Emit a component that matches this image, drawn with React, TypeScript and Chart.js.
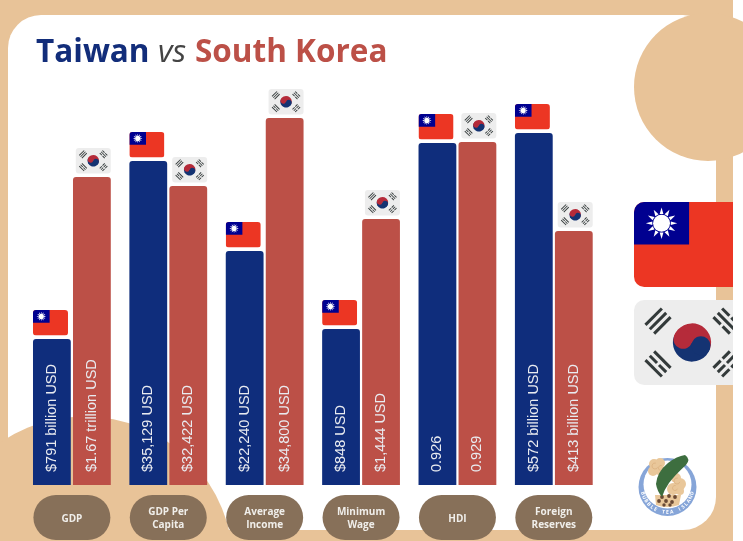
import React, { useEffect, useRef } from "react";
import { Chart, registerables } from "chart.js";

Chart.register(...registerables);

const categories: (string | string[])[] = ["GDP", ["GDP Per", "Capita"], ["Average", "Income"], ["Minimum", "Wage"], "HDI", ["Foreign", "Reserves"]];
const taiwanHeights = [146, 324, 234, 156, 342, 352];
const koreaHeights = [308, 299, 367, 266, 343, 254];
const taiwanLabels = ["$791 billion USD", "$35,129 USD", "$22,240 USD", "$848 USD", "0.926", "$572 billion USD"];
const koreaLabels = ["$1.67 trillion USD", "$32,422 USD", "$34,800 USD", "$1,444 USD", "0.929", "$413 billion USD"];

const BEIGE = "#e8c398";
const BLUE = "#0f2d7c";
const RED = "#bc5047";
const PILL = "#877059";

function rr(ctx: CanvasRenderingContext2D, x: number, y: number, w: number, h: number, r: number) {
  ctx.beginPath();
  ctx.roundRect(x, y, w, h, r);
}

function taiwanFlag(ctx: CanvasRenderingContext2D, x: number, y: number, w: number, h: number) {
  ctx.save();
  rr(ctx, x, y, w, h, h * 0.12);
  ctx.clip();
  ctx.fillStyle = "#ec3623";
  ctx.fillRect(x, y, w, h);
  const cw = w * 0.475;
  const ch = h * 0.5;
  ctx.fillStyle = "#000090";
  ctx.fillRect(x, y, cw, ch);
  const cx = x + cw / 2;
  const cy = y + ch / 2;
  const R = ch * 0.37;
  ctx.fillStyle = "#ffffff";
  for (let i = 0; i < 12; i++) {
    const a = (i * Math.PI) / 6 - Math.PI / 2;
    const b = 0.2;
    const inner = R * 0.6;
    ctx.beginPath();
    ctx.moveTo(cx + R * Math.cos(a), cy + R * Math.sin(a));
    ctx.lineTo(cx + inner * Math.cos(a - b), cy + inner * Math.sin(a - b));
    ctx.lineTo(cx + inner * Math.cos(a + b), cy + inner * Math.sin(a + b));
    ctx.closePath();
    ctx.fill();
  }
  ctx.beginPath();
  ctx.arc(cx, cy, R * 0.54, 0, Math.PI * 2);
  ctx.fill();
  ctx.restore();
}

function trigram(ctx: CanvasRenderingContext2D, cx: number, cy: number, angle: number, w: number, broken: boolean[]) {
  const len = w * 0.2;
  const t = w * 0.026;
  const gap = w * 0.053;
  ctx.save();
  ctx.translate(cx, cy);
  ctx.rotate(angle);
  ctx.fillStyle = "#333a3a";
  broken.forEach((b, i) => {
    const yy = (i - 1) * gap - t / 2;
    if (b) {
      ctx.fillRect(-len / 2, yy, len * 0.44, t);
      ctx.fillRect(len * 0.06, yy, len * 0.44, t);
    } else {
      ctx.fillRect(-len / 2, yy, len, t);
    }
  });
  ctx.restore();
}

function koreaFlag(ctx: CanvasRenderingContext2D, x: number, y: number, w: number, h: number) {
  ctx.save();
  ctx.fillStyle = "#ededed";
  rr(ctx, x, y, w, h, h * 0.12);
  ctx.fill();
  rr(ctx, x, y, w, h, h * 0.12);
  ctx.clip();
  const cx = x + w / 2;
  const cy = y + h / 2;
  const dx = w * 0.293;
  const dy = w * 0.185;
  const a = Math.PI / 4;
  trigram(ctx, cx - dx, cy - dy, -a, w, [false, false, false]);
  trigram(ctx, cx + dx, cy - dy, a, w, [true, false, true]);
  trigram(ctx, cx - dx, cy + dy, a, w, [false, true, false]);
  trigram(ctx, cx + dx, cy + dy, -a, w, [true, true, true]);
  const r = w * 0.165;
  const rot = 0.35;
  ctx.translate(cx, cy);
  ctx.rotate(rot);
  ctx.fillStyle = "#b52b3a";
  ctx.beginPath();
  ctx.arc(0, 0, r, Math.PI, 0);
  ctx.fill();
  ctx.fillStyle = "#143372";
  ctx.beginPath();
  ctx.arc(0, 0, r, 0, Math.PI);
  ctx.fill();
  ctx.fillStyle = "#b52b3a";
  ctx.beginPath();
  ctx.arc(-r / 2, 0, r / 2, 0, Math.PI * 2);
  ctx.fill();
  ctx.fillStyle = "#143372";
  ctx.beginPath();
  ctx.arc(r / 2, 0, r / 2, 0, Math.PI * 2);
  ctx.fill();
  ctx.restore();
}

function logo(ctx: CanvasRenderingContext2D) {
  const cx = 667.5;
  const cy = 487;
  ctx.save();
  ctx.fillStyle = "#86a5d8";
  ctx.beginPath();
  ctx.arc(cx, cy, 29, 0, Math.PI * 2);
  ctx.fill();
  ctx.fillStyle = "#ffffff";
  ctx.beginPath();
  ctx.arc(cx, cy - 2.5, 24, 0, Math.PI * 2);
  ctx.fill();
  ctx.fillStyle = "#e9c79a";
  ctx.beginPath();
  ctx.moveTo(655, 495);
  ctx.lineTo(681, 495);
  ctx.lineTo(679, 505);
  ctx.quadraticCurveTo(667, 509, 656, 505);
  ctx.closePath();
  ctx.fill();
  ([[654, 464, 5], [660, 463, 5], [653, 471, 5], [661, 471, 5], [676, 478, 5], [680, 484, 6], [673, 489, 6], [680, 491, 4]] as number[][]).forEach(([a, b, r]) => {
    ctx.beginPath();
    ctx.arc(a, b, r, 0, Math.PI * 2);
    ctx.fill();
  });
  ctx.strokeStyle = "#d8ad7c";
  ctx.lineWidth = 0.7;
  ([[655, 466, 3], [661, 468, 2.5], [677, 481, 3], [675, 488, 2.5]] as number[][]).forEach(([a, b, r]) => {
    ctx.beginPath();
    ctx.arc(a, b, r, 0.3, 5);
    ctx.stroke();
  });
  ctx.fillStyle = "#6a4a35";
  ([[662, 497, 1.9], [669, 496, 1.9], [675, 497, 1.9], [659, 501, 1.9], [666, 501, 1.9], [672, 502, 1.9], [664, 505, 1.7], [670, 505, 1.7]] as number[][]).forEach(([a, b, r]) => {
    ctx.beginPath();
    ctx.arc(a, b, r, 0, Math.PI * 2);
    ctx.fill();
  });
  ctx.fillStyle = "#3d6e3f";
  ctx.beginPath();
  ctx.moveTo(685, 455);
  ctx.quadraticCurveTo(691, 459, 686, 465);
  ctx.quadraticCurveTo(675, 475, 669, 483);
  ctx.quadraticCurveTo(664, 490, 662, 497);
  ctx.quadraticCurveTo(657, 491, 656, 484);
  ctx.quadraticCurveTo(657, 472, 668, 463);
  ctx.quadraticCurveTo(677, 456, 685, 455);
  ctx.fill();
  const text = "BUBBLE TEA ISLAND";
  ctx.fillStyle = "#ffffff";
  ctx.font = "bold 5px 'Open Sans'";
  ctx.textAlign = "center";
  ctx.textBaseline = "middle";
  const step = 0.165;
  [...text].forEach((ch, i) => {
    const a = Math.PI / 2 + ((text.length - 1) / 2 - i) * step;
    ctx.save();
    ctx.translate(cx + 25.5 * Math.cos(a), cy + 25.5 * Math.sin(a));
    ctx.rotate(a - Math.PI / 2);
    ctx.fillText(ch, 0, 0);
    ctx.restore();
  });
  ctx.restore();
}

const backdrop = {
  id: "backdrop",
  beforeDraw(chart: any) {
    const ctx: CanvasRenderingContext2D = chart.ctx;
    ctx.save();
    ctx.fillStyle = "#ffffff";
    ctx.fillRect(0, 0, 743, 541);
    ctx.fillStyle = BEIGE;
    ctx.fillRect(0, 0, 733, 541);
    ctx.fillStyle = "#ffffff";
    rr(ctx, 8, 15, 708, 515, 33);
    ctx.fill();
    ctx.fillStyle = BEIGE;
    ctx.beginPath();
    ctx.arc(708, 87, 74, 0, Math.PI * 2);
    ctx.fill();
    ctx.beginPath();
    ctx.rect(0, 400, 733, 141);
    ctx.clip();
    ctx.beginPath();
    ctx.arc(84.4, 565.4, 149, 0, Math.PI * 2);
    ctx.fill();
    ctx.restore();

    ctx.save();
    ctx.beginPath();
    ctx.rect(0, 0, 733, 541);
    ctx.clip();
    taiwanFlag(ctx, 634, 202, 116, 85);
    koreaFlag(ctx, 634, 300, 116, 85);
    ctx.restore();

    logo(ctx);

    // title
    ctx.save();
    ctx.textBaseline = "alphabetic";
    ctx.textAlign = "left";
    ctx.font = "bold 31.5px 'Open Sans'";
    ctx.fillStyle = "#122d7a";
    ctx.fillText("Taiwan", 36, 62);
    ctx.font = "italic 31.5px 'Open Sans'";
    ctx.fillStyle = "#444444";
    ctx.fillText("vs", 158, 62);
    ctx.font = "bold 31.5px 'Open Sans'";
    ctx.fillStyle = "#bc5047";
    ctx.fillText("South Korea", 195, 62);
    ctx.restore();

    // category pills, placed on the axis ticks
    const xs = chart.scales.x;
    ctx.save();
    ctx.fillStyle = PILL;
    categories.forEach((_, i) => {
      const px = xs.getPixelForTick(i);
      rr(ctx, px - 38.5, 495, 77, 45, 22.5);
      ctx.fill();
    });
    ctx.restore();
  },
};

const barDecor = {
  id: "barDecor",
  afterDatasetsDraw(chart: any) {
    const ctx: CanvasRenderingContext2D = chart.ctx;
    const sets = [
      { labels: taiwanLabels, meta: chart.getDatasetMeta(0), flag: taiwanFlag, left: true },
      { labels: koreaLabels, meta: chart.getDatasetMeta(1), flag: koreaFlag, left: false },
    ];
    sets.forEach(({ labels, meta, flag, left }) => {
      meta.data.forEach((bar: any, i: number) => {
        const fw = 35;
        const fh = 25.5;
        const half = bar.width / 2;
        const fx = left ? bar.x - half : bar.x + half - fw;
        flag(ctx, fx, bar.y - fh - 3.5, fw, fh);
        ctx.save();
        ctx.translate(bar.x, bar.base - 13);
        ctx.rotate(-Math.PI / 2);
        ctx.font = "14.5px 'Liberation Sans'";
        ctx.fillStyle = "#e9ebf0";
        ctx.textAlign = "left";
        ctx.textBaseline = "middle";
        ctx.fillText(labels[i], 0, 0);
        ctx.restore();
      });
    });
  },
};

export default function App() {
  const ref = useRef<HTMLCanvasElement>(null);
  useEffect(() => {
    const chart = new Chart(ref.current!, {
      type: "bar",
      data: {
        labels: categories as any,
        datasets: [
          { label: "Taiwan", data: taiwanHeights, backgroundColor: BLUE, borderRadius: { topLeft: 3, topRight: 3 } as any, categoryPercentage: 0.83, barPercentage: 0.945 },
          { label: "South Korea", data: koreaHeights, backgroundColor: RED, borderRadius: { topLeft: 3, topRight: 3 } as any, categoryPercentage: 0.83, barPercentage: 0.945 },
        ],
      },
      options: {
        responsive: false,
        animation: false,
        layout: { padding: { left: 23.7, right: 141, top: 15, bottom: 0 } },
        plugins: { legend: { display: false }, tooltip: { enabled: false } },
        scales: {
          x: {
            grid: { display: false },
            border: { display: false },
            afterFit: (s: any) => { s.height = 56; },
            ticks: {
              color: "#f0eeea",
              font: { family: "'Open Sans'", size: 10, weight: "bold", lineHeight: 1.3 },
              maxRotation: 0,
              minRotation: 0,
              autoSkip: false,
              crossAlign: "center",
              padding: 19.5,
            },
          },
          y: { display: false, min: 0, max: 470 },
        },
      },
      plugins: [backdrop, barDecor],
    } as any);
    return () => chart.destroy();
  }, []);
  return (
    <div style={{ position: "fixed", left: 0, top: 0, width: 743, height: 541 }}>
      <canvas ref={ref} width={743} height={541} style={{ display: "block" }} />
    </div>
  );
}
